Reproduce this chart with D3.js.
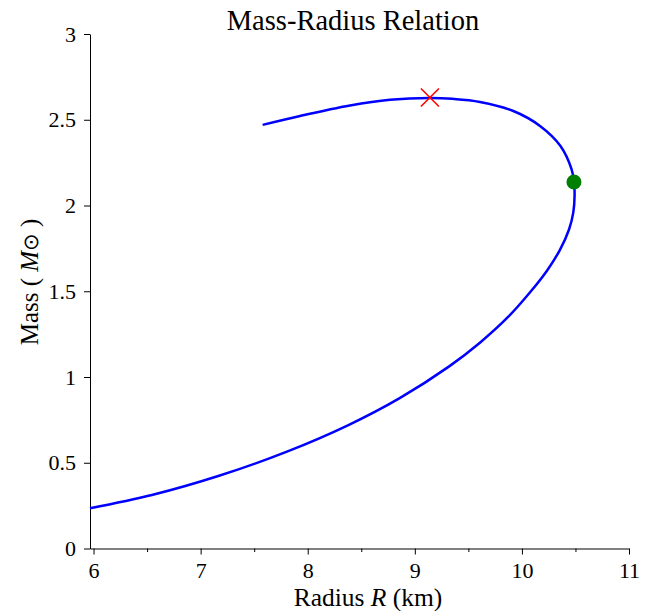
<!DOCTYPE html>
<html>
<head>
<meta charset="utf-8">
<script src="https://cdn.jsdelivr.net/npm/d3@7"></script>
<style>
	body { margin: 0; background: #fff; }
	#chart text { font-family: "Liberation Serif", "Times New Roman", serif; fill: #000; }
	#chart tspan.sym { font-family: "DejaVu Sans", sans-serif; }
</style>
</head>
<body>
<svg id="chart"></svg>
<script>
// mass-radius curve (low mass end first)
var radius = [5.967, 6.545, 7.172, 7.806, 8.38, 8.859, 9.321, 9.608, 9.871, 10.084, 10.234, 10.354, 10.44, 10.48, 10.492, 10.486, 10.464, 10.36, 10.169, 9.92, 9.608, 9.35, 9.141, 8.768, 8.395, 7.928, 7.579]
var mass = [0.235, 0.312, 0.424, 0.565, 0.72, 0.877, 1.062, 1.2, 1.35, 1.5, 1.62, 1.74, 1.86, 1.96, 2.06, 2.137, 2.211, 2.347, 2.464, 2.551, 2.604, 2.622, 2.627, 2.616, 2.583, 2.522, 2.47]

var maxPoint = [9.141, 2.63]
var dotPoint = [10.486, 2.137]

var xTicks = [6, 7, 8, 9, 10, 11]
var xMinorTicks = [6.5, 7.5, 8.5, 9.5, 10.5]
var yTicks = [0, 0.5, 1, 1.5, 2, 2.5, 3]

var width = 647
var height = 611
var margin = ({top: 34, right: 18, bottom: 62.5, left: 90})

var data = radius.map((r, i) => ({"x": r, "y": mass[i]}))

var x = d3.scaleLinear()
	.domain([5.967, 11])
	.range([margin.left, width - margin.right])

var y = d3.scaleLinear()
	.domain([0, 3])
	.range([height - margin.bottom, margin.top])

var svg = d3.select("#chart")
	.attr("width", width)
	.attr("height", height)
	.attr("viewBox", [0, 0, width, height])

var xAxis = g => g
	.attr("transform", `translate(0,${height - margin.bottom})`)
	.call(d3.axisBottom(x).tickValues(xTicks).tickSize(6).tickSizeOuter(0).tickPadding(8).tickFormat(d3.format("d")))
	.call(g => g.attr("font-size", 22))

var xMinor = g => g
	.attr("transform", `translate(0,${height - margin.bottom})`)
	.call(d3.axisBottom(x).tickValues(xMinorTicks).tickSize(3.5).tickFormat(""))
	.call(g => g.select(".domain").remove())

var yAxis = g => g
	.attr("transform", `translate(${margin.left},0)`)
	.call(d3.axisLeft(y).tickValues(yTicks).tickSize(6).tickSizeOuter(0).tickPadding(8).tickFormat(d3.format("")))
	.call(g => g.attr("font-size", 22))

svg.append("g").call(xMinor)
svg.append("g").call(xAxis)
svg.append("g").call(yAxis)

var lineFunction = d3.line()
	.x(d => x(d.x))
	.y(d => y(d.y))
	.curve(d3.curveCatmullRom.alpha(0.5))

svg.append("path")
	.attr("fill", "none")
	.attr("stroke", "#0000ff")
	.attr("stroke-width", 2.5)
	.attr("stroke-linejoin", "round")
	.attr("d", lineFunction(data))

// red cross at the maximum mass
var cs = 9
var cx = x(maxPoint[0]), cy = y(maxPoint[1])
svg.append("path")
	.attr("stroke", "#ff0000")
	.attr("stroke-width", 1.6)
	.attr("fill", "none")
	.attr("d", `M${cx - cs},${cy - cs}L${cx + cs},${cy + cs}M${cx - cs},${cy + cs}L${cx + cs},${cy - cs}`)

svg.append("circle")
	.attr("cx", x(dotPoint[0]))
	.attr("cy", y(dotPoint[1]))
	.attr("r", 7.5)
	.attr("fill", "#008000")

svg.append("text")
	.attr("x", 353)
	.attr("y", 30)
	.attr("text-anchor", "middle")
	.attr("font-size", 28.5)
	.text("Mass-Radius Relation")

svg.append("text")
	.attr("x", 368)
	.attr("y", 606)
	.attr("text-anchor", "middle")
	.attr("font-size", 25.5)
	.html('Radius <tspan font-style="italic">R</tspan> (km)')

svg.append("text")
	.attr("transform", "translate(38,282) rotate(-90)")
	.attr("text-anchor", "middle")
	.attr("font-size", 25)
	.html('Mass ( <tspan font-style="italic">M</tspan><tspan class="sym" font-size="21">⊙</tspan> )')
</script>
</body>
</html>
